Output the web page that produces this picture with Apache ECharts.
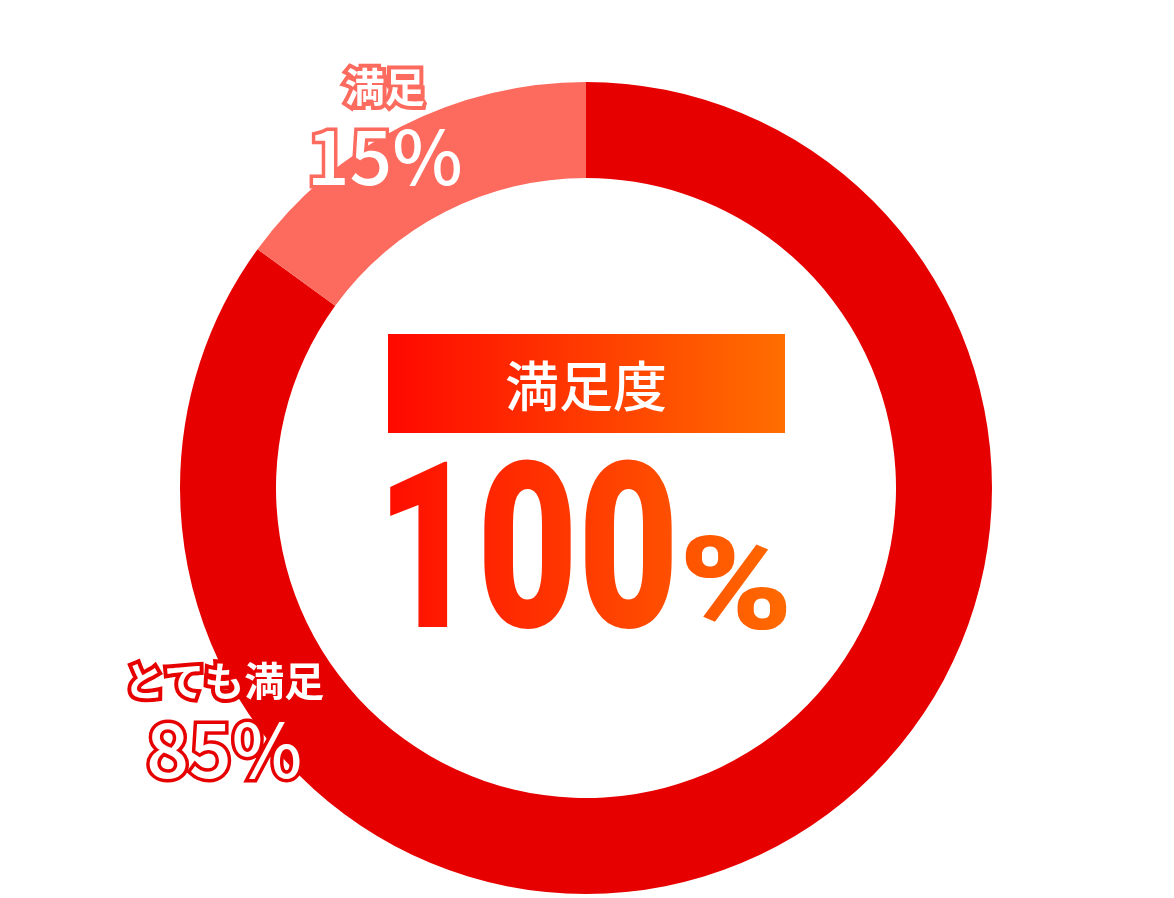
<!DOCTYPE html>
<html>
<head>
<meta charset="utf-8">
<script src="https://cdn.jsdelivr.net/npm/echarts@6/dist/echarts.min.js"></script>
<style>
  html, body { margin: 0; padding: 0; background: #fff; }
  #chart { width: 1174px; height: 898px; }
</style>
</head>
<body>
<div id="chart"></div>
<script>
// data
const categories = ['とても満足', '満足'];
const values = [85, 15];
const sliceColors = ['#e60000', '#fd6a5e'];
const labelBorders = ['#e60000', '#fd6a5e'];
const centerTitle = '満足度';
const centerValue = 100;

const dom = document.getElementById('chart');
const myChart = echarts.init(dom, null, { renderer: 'canvas' });

const cx = 586, cy = 488;
const rOuter = 406, rInner = 310;
const jp = '"Noto Sans CJK JP", "Noto Sans", sans-serif';

// where each label sits, as angle from 12 o'clock (clockwise) and distance from the centre
const labelSpots = [
  { angle: 237.5, dist: 429 },
  { angle: 331, dist: 415 }
];

function gradient(c0, c1) {
  return new echarts.graphic.LinearGradient(0, 0, 1, 0, [
    { offset: 0, color: c0 },
    { offset: 1, color: c1 }
  ]);
}

const option = {
  backgroundColor: '#fff',
  animation: false,
  series: [
    {
      type: 'pie',
      center: [cx, cy],
      radius: [rInner, rOuter],
      startAngle: 90,
      clockwise: true,
      avoidLabelOverlap: false,
      emphasis: { disabled: true },
      labelLine: { show: false },
      label: {
        show: true,
        position: 'outside',
        formatter: '{n|{b}}\n{v|{c}%}'
      },
      labelLayout: function (params) {
        const s = labelSpots[params.dataIndex];
        const a = s.angle * Math.PI / 180;
        return {
          x: cx + Math.sin(a) * s.dist,
          y: cy - Math.cos(a) * s.dist,
          align: 'center',
          verticalAlign: 'middle'
        };
      },
      data: categories.map((name, i) => ({
        name: name,
        value: values[i],
        itemStyle: { color: sliceColors[i] },
        label: {
          rich: {
            n: {
              fontFamily: jp, fontSize: 40, fontWeight: 'bold', color: '#fff',
              textBorderColor: labelBorders[i], textBorderWidth: 8,
              lineHeight: 62, align: 'center'
            },
            v: {
              fontFamily: jp, fontSize: 75, fontWeight: 500, color: '#fff',
              textBorderColor: labelBorders[i], textBorderWidth: 7,
              lineHeight: 76, align: 'center'
            }
          }
        }
      }))
    }
  ],
  graphic: [
    {
      type: 'rect',
      shape: { x: 388, y: 334, width: 397, height: 99 },
      style: { fill: gradient('#ff0800', '#ff6e00') },
      z: 10
    },
    {
      type: 'text',
      x: 586, y: 386,
      style: {
        text: centerTitle,
        fontFamily: jp, fontSize: 54, fontWeight: 500,
        fill: '#fff', align: 'center', verticalAlign: 'middle'
      },
      z: 11
    },
    // big number drawn black, then coloured by a gradient rect in screen mode
    {
      type: 'text',
      x: 376, y: 569,
      scaleX: 0.751,
      style: {
        text: String(centerValue),
        fontFamily: 'Roboto, sans-serif', fontSize: 232, fontWeight: 900,
        fill: '#000', align: 'left', verticalAlign: 'middle'
      },
      z: 11
    },
    {
      type: 'text',
      x: 736, y: 596,
      scaleX: 1.18,
      style: {
        text: '%',
        fontFamily: 'Roboto, sans-serif', fontSize: 130, fontWeight: 900,
        fill: '#000', align: 'center', verticalAlign: 'middle'
      },
      z: 11
    },
    {
      type: 'rect',
      shape: { x: 380, y: 450, width: 415, height: 190 },
      style: { fill: gradient('#ff0c00', '#ff6c00'), blend: 'screen' },
      z: 12
    }
  ]
};

myChart.setOption(option);
window.addEventListener('resize', myChart.resize);
</script>
</body>
</html>
